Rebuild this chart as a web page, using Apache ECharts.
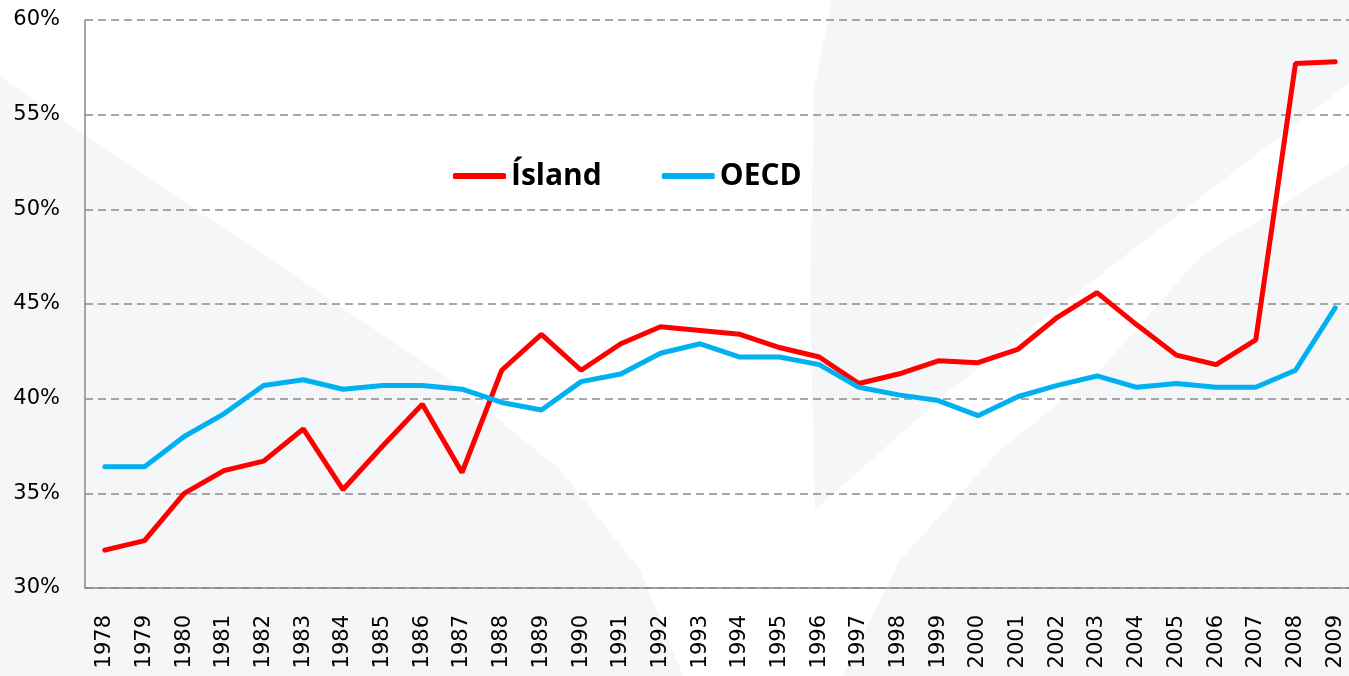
<!DOCTYPE html>
<html>
<head>
<meta charset="utf-8">
<script src="https://cdn.jsdelivr.net/npm/echarts@6/dist/echarts.min.js"></script>
<style>
html, body { margin: 0; padding: 0; background: #ffffff; }
#chart { width: 1349px; height: 676px; }
</style>
</head>
<body>
<div id="chart"></div>
<script>
var years = ['1978', '1979', '1980', '1981', '1982', '1983', '1984', '1985', '1986', '1987',
    '1988', '1989', '1990', '1991', '1992', '1993', '1994', '1995', '1996', '1997',
    '1998', '1999', '2000', '2001', '2002', '2003', '2004', '2005', '2006', '2007',
    '2008', '2009']
// Ísland
var island = [32.0, 32.5, 35.0, 36.2, 36.7, 38.4, 35.2, 37.5, 39.7, 36.1,
    41.5, 43.4, 41.5, 42.9, 43.8, 43.6, 43.4, 42.7, 42.2, 40.8,
    41.3, 42.0, 41.9, 42.6, 44.3, 45.6, 43.9, 42.3, 41.8, 43.1,
    57.7, 57.8]
// OECD
var oecd = [36.4, 36.4, 38.0, 39.2, 40.7, 41.0, 40.5, 40.7, 40.7, 40.5,
    39.8, 39.4, 40.9, 41.3, 42.4, 42.9, 42.2, 42.2, 41.8, 40.6,
    40.2, 39.9, 39.1, 40.1, 40.7, 41.2, 40.6, 40.8, 40.6, 40.6,
    41.5, 44.8]

var chart = echarts.init(document.getElementById('chart'))
var shade = '#f5f6f8'
chart.setOption({
    backgroundColor: '#ffffff',
    animation: false,
    // faint watermark behind the plot
    graphic: [
        {
            type: 'polygon', z: -100, silent: true,
            shape: { points: [[0, 77], [330, 300], [450, 380], [560, 470], [640, 570], [683, 676], [0, 676]] },
            style: { fill: shade }
        },
        {
            type: 'polygon', z: -100, silent: true,
            shape: { points: [[832, 0], [1349, 0], [1349, 83], [1100, 275], [950, 390], [815, 510], [810, 300], [814, 90]] },
            style: { fill: shade }
        },
        {
            type: 'polygon', z: -100, silent: true,
            shape: { points: [[1349, 163], [1349, 676], [843, 676], [900, 560], [1000, 450], [1100, 370], [1200, 257]] },
            style: { fill: shade }
        }
    ],
    grid: {
        left: 85,
        top: 20,
        width: 1270,
        height: 568,
        outerBoundsMode: 'none'
    },
    legend: {
        left: 453,
        top: 161,
        padding: 0,
        icon: 'roundRect',
        itemWidth: 53,
        itemHeight: 6,
        itemGap: 60,
        textStyle: {
            fontFamily: 'Open Sans',
            fontWeight: 'bold',
            fontSize: 30,
            color: '#000'
        },
        data: ['Ísland', 'OECD']
    },
    xAxis: {
        type: 'category',
        boundaryGap: true,
        data: years,
        axisLine: { lineStyle: { color: '#888888', width: 1.5 } },
        axisTick: { show: false },
        axisLabel: {
            rotate: 90,
            margin: 27,
            interval: 0,
            fontFamily: 'DejaVu Sans',
            fontSize: 21,
            color: '#000'
        }
    },
    yAxis: {
        type: 'value',
        min: 30,
        max: 60,
        interval: 5,
        axisLine: { show: true, lineStyle: { color: '#888888', width: 1.5 } },
        axisTick: { show: false },
        axisLabel: {
            formatter: '{value}%',
            margin: 25,
            fontFamily: 'DejaVu Sans',
            fontSize: 21,
            color: '#000'
        },
        splitLine: {
            lineStyle: { color: '#8c8c8c', width: 1.5, type: [8, 5] }
        }
    },
    series: [
        {
            name: 'Ísland',
            type: 'line',
            data: island,
            symbol: 'none',
            itemStyle: { color: '#ff0000' },
            lineStyle: { color: '#ff0000', width: 5, cap: 'round' }
        },
        {
            name: 'OECD',
            type: 'line',
            data: oecd,
            symbol: 'none',
            itemStyle: { color: '#00b0f0' },
            lineStyle: { color: '#00b0f0', width: 5, cap: 'round' }
        }
    ]
})
</script>
</body>
</html>
